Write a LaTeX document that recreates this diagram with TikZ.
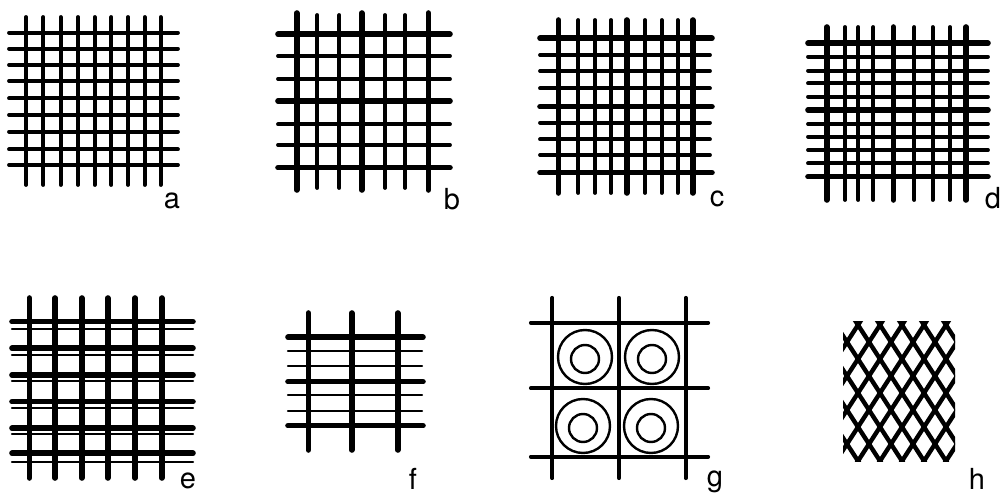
\documentclass[tikz,border=0pt]{standalone}
\usepackage{fontspec}
\setmainfont{TeX Gyre Heros}
\tikzset{
  thin line/.style={line width=1.9pt, line cap=round},
  thick line/.style={line width=2.8pt, line cap=round},
  fine line/.style={line width=1.1pt, line cap=round},
  ring/.style={line width=1.2pt},
  lbl/.style={anchor=base, inner sep=0pt, font=\fontsize{14.5}{16}\selectfont}
}
\begin{document}
\begin{tikzpicture}[x=0.5pt,y=-0.5pt]
\useasboundingbox (0,0) rectangle (1003,497);
% ---------- a ----------
\foreach \x in {26,43.3,60.7,78,94.7,111.3,128,144.7,160.7}
  \draw[thin line] (\x,17) -- (\x,185);
\foreach \y in {32.7,48.7,65,81,98.3,115,131.7,149.3,165}
  \draw[thin line] (9,\y) -- (178,\y);
\node[lbl] (la) at (172,209) {a};
% ---------- b ----------
\foreach \x in {296.7,361.7,428.3}
  \draw[thick line] (\x,13) -- (\x,190);
\foreach \x in {317.3,339.3,385,405}
  \draw[thin line] (\x,15) -- (\x,188);
\foreach \y in {34.3,101,167.7}
  \draw[thick line] (278,\y) -- (450,\y);
\foreach \y in {56,79,124.3,145}
  \draw[thin line] (278,\y) -- (450,\y);
\node[lbl] (lb) at (452,210) {b};
% ---------- c ----------
\foreach \x in {558.3,626.7,692.7}
  \draw[thick line] (\x,20) -- (\x,193);
\foreach \x in {578.3,595,611,645,661.7,677.7}
  \draw[thin line] (\x,20) -- (\x,193);
\foreach \y in {38.3,106.7,172.7}
  \draw[thick line] (540,\y) -- (712,\y);
\foreach \y in {55,71,88.3,122.7,139.3,155}
  \draw[thin line] (540,\y) -- (710,\y);
\node[lbl] (lc) at (717,207) {c};
% ---------- d ----------
\foreach \x in {826.7,893.3,966}
  \draw[thick line] (\x,27) -- (\x,200);
\foreach \x in {845,858.3,873.3,914.3,932.7,950}
  \draw[thin line] (\x,27) -- (\x,200);
\foreach \y in {43.3,110,176.7}
  \draw[thick line] (808,\y) -- (988,\y);
\foreach \y in {56.7,70.7,83.3,96.7,124,136.7,150,163.3}
  \draw[thin line] (808,\y) -- (988,\y);
\node[lbl] (ld) at (993,209) {d};
% ---------- e ----------
\foreach \x in {29.3,55,81.7,107.7,135,161.7}
  \draw[thick line] (\x,298) -- (\x,478);
\foreach \y in {321.7,348.3,375,401.7,428.3,453.3}
  \draw[thick line] (12,\y) -- (193,\y);
\foreach \y in {329.3,355,380.7,408.3,434,461.7}
  \draw[fine line] (12,\y) -- (193,\y);
\node[lbl] (le) at (188,489) {e};
% ---------- f ----------
\foreach \x in {308.3,351.7,397.7}
  \draw[thick line] (\x,313) -- (\x,450);
\foreach \y in {337.3,381.7,425.7}
  \draw[thick line] (288,\y) -- (423,\y);
\foreach \y in {350.7,366,395,410.7}
  \draw[fine line] (288,\y) -- (422,\y);
\node[lbl] (lf) at (413,490) {f};
% ---------- g ----------
\foreach \x in {552.3,619,685.7}
  \draw[thin line, line width=2.1pt] (\x,298) -- (\x,478);
\foreach \y in {322.7,388.3,456.7}
  \draw[thin line, line width=2.1pt] (531,\y) -- (708,\y);
\foreach \cx/\cy in {585/357, 652/357, 583/426, 651/426} {
  \draw[ring] (\cx,\cy) circle [radius=27];
  \draw[ring] (\cx,\cy+2) circle [radius=14];
}
\node[lbl] (lg) at (715,487) {g};
% ---------- h ----------
\begin{scope}
  \clip (843,322) rectangle (955,462);
  \foreach \i in {-8,...,8} {
    \draw[thin line, line width=2.2pt] ({858+22*\i},325) -- ({858+22*\i+11*10},{325+17*10});
    \draw[thin line, line width=2.2pt] ({858+22*\i},325) -- ({858+22*\i-11*10},{325+17*10});
    \draw[thin line, line width=2.2pt] ({858+22*\i},325) -- ({858+22*\i+11},{325-17});
    \draw[thin line, line width=2.2pt] ({858+22*\i},325) -- ({858+22*\i-11},{325-17});
  }
\end{scope}
\node[lbl] (lh) at (977,490) {h};
\end{tikzpicture}
\end{document}
